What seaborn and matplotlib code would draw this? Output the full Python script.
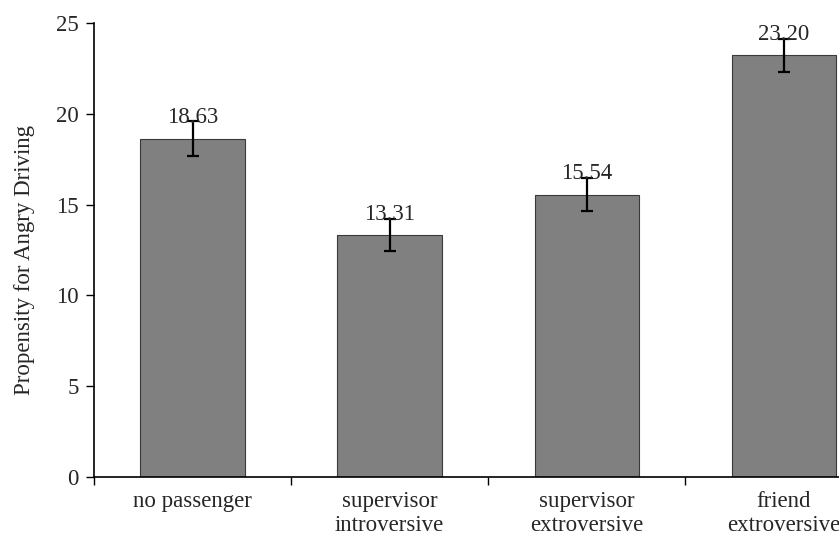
import pandas as pd
import numpy as np
import matplotlib
matplotlib.use("Agg")
import matplotlib.pyplot as plt
import seaborn as sns

categories = ["no passenger", "supervisor\nintroversive", "supervisor\nextroversive", "friend\nextroversive"]
means = [18.63, 13.31, 15.54, 23.20]
errors = [0.97, 0.88, 0.91, 0.90]
yticks = [0, 5, 10, 15, 20, 25]

sns.set_style("white")
plt.rcParams["font.family"] = ["Liberation Serif", "DejaVu Serif"]
fs = 16.5

df = pd.DataFrame({"condition": categories, "score": means})

fig = plt.figure(figsize=(8.39, 5.34), dpi=100)
ax = fig.add_axes([94 / 839, 56.7 / 534, 788.5 / 839, 454.6 / 534])

sns.barplot(
    data=df,
    x="condition",
    y="score",
    color="#808080",
    saturation=1,
    width=0.53,
    edgecolor="#3a3a3a",
    linewidth=0.8,
    errorbar=None,
    ax=ax,
)

ax.errorbar(
    np.arange(len(means)), means, yerr=errors,
    fmt="none", ecolor="black", elinewidth=1.6, capsize=4, capthick=1.6,
)

for i, v in enumerate(means):
    ax.annotate(f"{v:.2f}", (i, v), xytext=(0, 11), textcoords="offset points",
                ha="center", va="baseline", fontsize=fs)

ax.set_xlim(-0.5, len(categories) - 0.5)
ax.set_ylim(0, 25)
ax.set_yticks(yticks)
ax.set_xticks(np.arange(len(categories)) - 0.5, minor=True)
ax.tick_params(axis="x", which="major", length=0, pad=10, labelsize=fs)
ax.tick_params(axis="x", which="minor", length=6, width=1, color="black", direction="out", bottom=True)
ax.tick_params(axis="y", length=6, width=1, color="black", direction="out", left=True, pad=5, labelsize=fs)

for s in ["top", "right"]:
    ax.spines[s].set_visible(False)
for s in ["left", "bottom"]:
    ax.spines[s].set_color("black")
    ax.spines[s].set_linewidth(1.2)

ax.set_xlabel("")
ax.set_ylabel("Propensity for Angry Driving", fontsize=fs, labelpad=15)
ax.yaxis.label.set_y(0.478)

fig.savefig("out.png", dpi=100)
